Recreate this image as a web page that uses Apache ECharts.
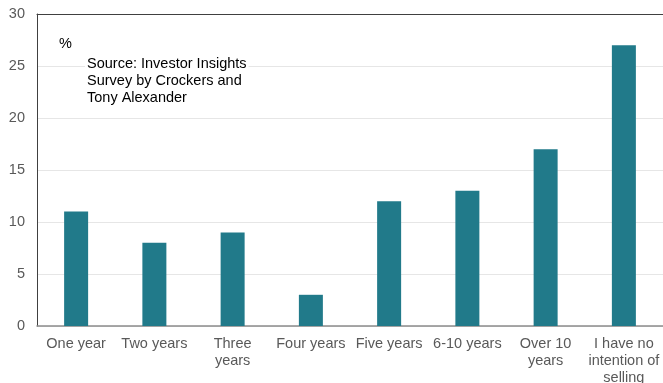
<!DOCTYPE html>
<html><head><meta charset="utf-8">
<script src="https://cdn.jsdelivr.net/npm/echarts@6/dist/echarts.min.js"></script>
<style>html,body{margin:0;padding:0;background:#fff}#c{width:663px;height:383px}</style>
</head><body><div id="c"></div>
<script>
const categories = ['One year', 'Two years', 'Three\nyears', 'Four years', 'Five years', '6-10 years', 'Over 10\nyears', 'I have no\nintention of\nselling'];
const values = [11, 8, 9, 3, 12, 13, 17, 27];
const yTicks = [0, 5, 10, 15, 20, 25, 30];

const chart = echarts.init(document.getElementById('c'));
const font = 'Liberation Sans, Arial, sans-serif';
chart.setOption({
  animation: false,
  grid: { left: 37, right: 0, top: 14, bottom: 57, outerBoundsMode: 'none', containLabel: false },
  xAxis: [{
    type: 'category', data: categories,
    axisLine: { lineStyle: { color: '#8c8c8c', width: 1.5 } },
    axisTick: { show: false },
    axisLabel: { color: '#595959', fontFamily: font, fontSize: 14.5, margin: 9, lineHeight: 17, interval: 0 }
  }, {
    type: 'category', data: categories, position: 'top',
    axisLine: { show: true, lineStyle: { color: '#404040', width: 1 } },
    axisTick: { show: false }, axisLabel: { show: false }
  }],
  yAxis: {
    type: 'value', min: yTicks[0], max: yTicks[yTicks.length - 1], interval: 5,
    axisLine: { show: true, lineStyle: { color: '#404040', width: 1 } },
    axisTick: { show: false },
    splitLine: { lineStyle: { color: '#e6e6e6', width: 1 } },
    axisLabel: { color: '#595959', fontFamily: font, fontSize: 14.5, margin: 12 }
  },
  series: [{
    type: 'bar', data: values, barWidth: 24,
    itemStyle: { color: '#217A8A' }
  }],
  graphic: [
    { type: 'text', z: 100, left: 59, top: 36, style: { text: '%', font: '14.5px ' + font, fill: '#000' } },
    { type: 'text', z: 100, left: 85, top: 55, style: { text: 'Source: Investor Insights\nSurvey by Crockers and\nTony Alexander', font: '14.5px ' + font, fill: '#000', lineHeight: 17, backgroundColor: '#fff', padding: [0, 2, 0, 2] } }
  ]
});
</script></body></html>
